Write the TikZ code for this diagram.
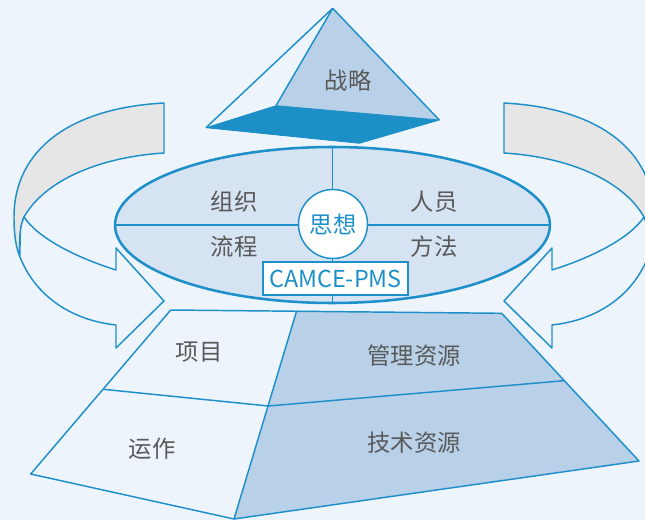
\documentclass[tikz,border=0pt]{standalone}
\usepackage{fontspec}
\setmainfont{Noto Sans CJK SC}
\usetikzlibrary{shapes.geometric}
\definecolor{bgblue}{HTML}{EEF4FB}
\definecolor{lineblue}{HTML}{1E90C9}
\definecolor{darkblue}{HTML}{1B8FC6}
\definecolor{faceblue}{HTML}{B9D0E9}
\definecolor{ellblue}{HTML}{D5E3F2}
\definecolor{bandgray}{HTML}{E6E6E6}
\definecolor{textgray}{HTML}{595959}
\tikzset{
  edge/.style={draw=lineblue, line width=1.1pt, line join=round},
  word/.style={inner sep=0pt, text=textgray, font=\fontsize{17.5}{20}\selectfont},
}
\begin{document}
\begin{tikzpicture}[x=0.75pt, y=-0.75pt]
\clip (0,0) rectangle (645,520);
\fill[bgblue] (0,0) rectangle (645,520);

% Drawing side arrows (right one is the mirror image)
\foreach \s/\dx in {1/0, -1/668} {
  \begin{scope}[xshift=\dx*0.75pt, xscale=\s]
    \filldraw[edge, fill=bandgray] (164,103) .. controls (70,108) and (14,150) .. (14,217)
      .. controls (14,235) and (16,248) .. (20,257)
      .. controls (19,240) and (20,228) .. (24,217)
      .. controls (45,180) and (100,157) .. (164,153) -- cycle;
    \filldraw[edge, fill=bgblue] (24,217) .. controls (38,238) and (75,257) .. (116,270)
      -- (116,248) -- (164,301) -- (116,348) -- (116,325)
      .. controls (70,320) and (35,295) .. (20,257)
      .. controls (20,228) and (20,228) .. (24,217) -- cycle;
  \end{scope}
}

% Drawing top pyramid
\coordinate (apex) at (332.7,8.3);
\coordinate (baseL) at (206,127.7);
\coordinate (baseB) at (276,105.7);
\coordinate (baseR) at (439.3,120);
\coordinate (baseF) at (359.3,143.3);
\fill[faceblue] (apex) -- (baseB) -- (baseR) -- cycle;
\filldraw[darkblue, line width=0.6pt, line join=round] (baseL) -- (baseB) -- (baseR) -- (baseF) -- cycle;
\draw[edge] (baseL) -- (apex) -- (baseR);
\draw[edge] (apex) -- (baseB);
\node[word] (strategy) at (348,81) {战略};

% Drawing ellipse
\node[ellipse, fill=ellblue, minimum width=326.25pt, minimum height=117pt, inner sep=0pt] (core) at (332.5,225) {};
\draw[edge] (core.north) -- (core.south);
\draw[edge] (core.west) -- (core.east);
\draw[draw=lineblue, line width=1.9pt] (core.center) ellipse [x radius=163.1pt, y radius=58.5pt];
\node[circle, draw=lineblue, line width=1.1pt, fill=white, minimum size=51.75pt, inner sep=0pt,
  text=lineblue, font=\fontsize{17.5}{20}\selectfont] (thought) at (333,224) {思想};
\node[draw=lineblue, line width=1.1pt, fill=white, minimum width=108.75pt, minimum height=24.75pt, inner sep=0pt,
  text=lineblue, font=\fontsize{17.5}{20}\selectfont] (cms) at (335.5,278.5) {CAMCE-PMS};
\node[word] (org) at (234,202) {组织};
\node[word] (staff) at (434,202) {人员};
\node[word] (flow) at (234,246.7) {流程};
\node[word] (method) at (434,246.7) {方法};

% Drawing bottom trapezoid
\coordinate (TL) at (170.7,310);
\coordinate (TM) at (296.7,310.7);
\coordinate (TR) at (501.7,313.3);
\coordinate (LM) at (103.3,389.3);
\coordinate (CM) at (268.3,406);
\coordinate (RM) at (564,380.7);
\coordinate (BL) at (30.7,474);
\coordinate (BC) at (234,519);
\coordinate (BR) at (639,461);
\fill[faceblue] (TM) -- (TR) -- (BR) -- (BC) -- cycle;
\draw[edge] (TL) -- (TR) -- (BR) -- (BC) -- (BL) -- cycle;
\draw[edge] (TM) -- (BC);
\draw[edge] (LM) -- (CM) -- (RM);
\node[word] (project) at (199.3,351.7) {项目};
\node[word] (operate) at (152.3,449) {运作};
\node[word] (mgmt) at (414,356) {管理资源};
\node[word] (tech) at (414,442.7) {技术资源};
\end{tikzpicture}
\end{document}
